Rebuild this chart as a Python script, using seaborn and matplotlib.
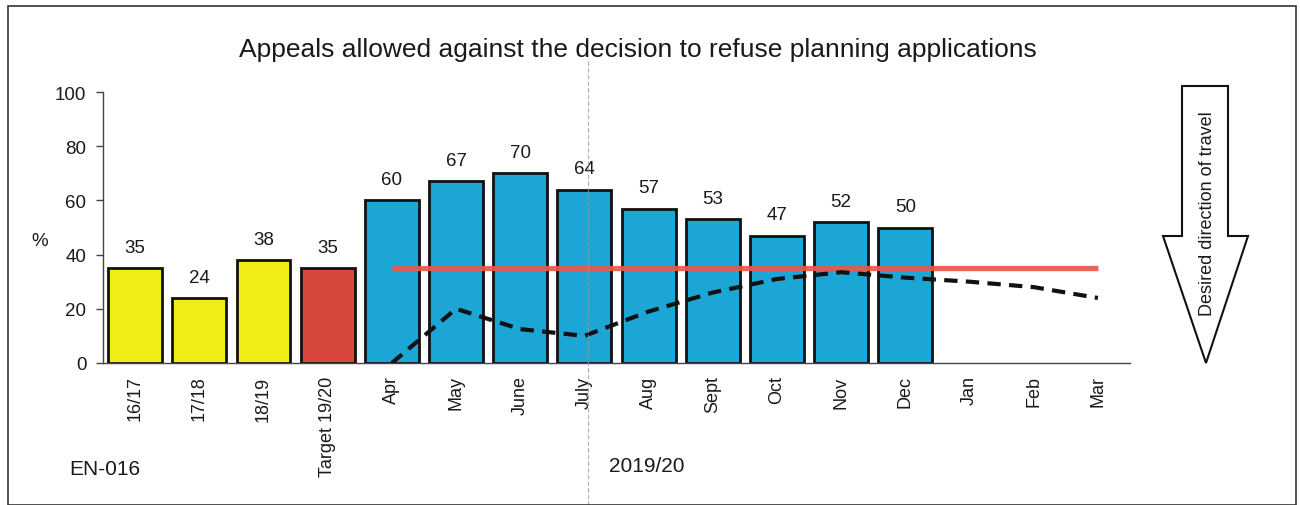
import matplotlib
matplotlib.use("Agg")
import matplotlib.pyplot as plt
from matplotlib.patches import Polygon, Rectangle
from matplotlib.lines import Line2D
import numpy as np
import pandas as pd
import seaborn as sns

# ---- data -------------------------------------------------------------
categories = ["16/17", "17/18", "18/19", "Target 19/20", "Apr", "May", "June",
              "July", "Aug", "Sept", "Oct", "Nov", "Dec", "Jan", "Feb", "Mar"]
values = [35, 24, 38, 35, 60, 67, 70, 64, 57, 53, 47, 52, 50,
          np.nan, np.nan, np.nan]
bar_colors = ["#f2ec16", "#f2ec16", "#f2ec16", "#d8473b"] + ["#1ba6d6"] * 12
value_labels = ["35", "24", "38", "35", "60", "67", "70", "64", "57", "53",
                "47", "52", "50", "", "", ""]

# comparison trend for the monthly period (Apr..Mar)
trend_months = ["Apr", "May", "June", "July", "Aug", "Sept", "Oct", "Nov",
                "Dec", "Jan", "Feb", "Mar"]
trend_values = [0, 20, 12.5, 10, 19, 26, 31, 33.5, 31.5, 30, 28, 24]
target_value = 35

yticks = [0, 20, 40, 60, 80, 100]

# ---- figure -----------------------------------------------------------
sns.set_theme(style="white")
plt.rcParams["font.family"] = ["Liberation Sans", "DejaVu Sans"]

W, H = 1300, 506
fig = plt.figure(figsize=(W / 100, H / 100), dpi=100)
fig.patch.set_facecolor("white")


def fx(px):
    return px / W


def fy(py):
    return 1 - py / H


ax = fig.add_axes([fx(103), fy(364), fx(1130) - fx(103), fy(93) - fy(364)])

df = pd.DataFrame({"cat": categories, "val": values})
palette = dict(zip(categories, bar_colors))
sns.barplot(data=df, x="cat", y="val", hue="cat", order=categories,
            hue_order=categories, palette=palette, legend=False,
            width=0.84, edgecolor="#111111", linewidth=2, saturation=1,
            ax=ax)

# value labels above bars
for i, (v, lab) in enumerate(zip(values, value_labels)):
    if lab:
        ax.text(i, v + 4.5, lab, ha="center", va="bottom", fontsize=13.5,
                color="#1a1a1a")

# target line and trend line
idx = {c: i for i, c in enumerate(categories)}
tx = [idx[m] for m in trend_months]
ax.plot([tx[0], tx[-1]], [target_value, target_value], color="#e8594c",
        lw=3.8, solid_capstyle="butt", alpha=0.92, zorder=4)
ax.plot(tx, trend_values, color="#111111", lw=3, ls=(0, (3.2, 2.0)),
        zorder=5)

# axes styling
ax.set_xlim(-0.5, len(categories) - 0.5)
ax.set_ylim(0, 100)
ax.set_yticks(yticks)
ax.set_yticklabels([str(t) for t in yticks], fontsize=13.5, color="#1a1a1a")
ax.set_xticks(range(len(categories)))
ax.set_xticklabels(categories, rotation=90, fontsize=13, color="#1a1a1a",
                   va="top")
ax.set_xticks(np.arange(-0.5, len(categories), 1.0), minor=True)
ax.tick_params(axis="x", which="major", length=0, pad=9)
ax.tick_params(axis="x", which="minor", length=5, width=1, color="#444444",
               direction="out")
ax.tick_params(axis="y", length=5, width=1, color="#444444", direction="out",
               pad=7, left=True)
ax.set_xlabel("")
ax.set_ylabel("%", rotation=0, fontsize=13.5, color="#1a1a1a")
ax.yaxis.set_label_coords(-0.062, 0.42)
for s in ["top", "right"]:
    ax.spines[s].set_visible(False)
for s in ["left", "bottom"]:
    ax.spines[s].set_color("#444444")
    ax.spines[s].set_linewidth(1)
ax.grid(False)

# title and side texts
fig.text(fx(638), fy(50), "Appeals allowed against the decision to refuse planning applications",
         ha="center", va="center", fontsize=19, color="#1a1a1a")
fig.text(fx(105), fy(470), "EN-016", ha="center", va="center", fontsize=15,
         color="#1a1a1a")
fig.text(fx(647), fy(467), "2019/20", ha="center", va="center", fontsize=15,
         color="#1a1a1a")

# outline arrow pointing down
arrow_pts = [(1182, 87), (1228, 87), (1228, 237), (1248, 237), (1206, 364),
             (1163, 237), (1182, 237)]
fig.patches.append(Polygon([(fx(x), fy(y)) for x, y in arrow_pts],
                           closed=True, transform=fig.transFigure,
                           facecolor="white", edgecolor="#111111", lw=1.5))
fig.text(fx(1207), fy(214), "Desired direction of travel", rotation=90,
         ha="center", va="center", fontsize=13, color="#1a1a1a")

# page frame and fold line
fig.patches.append(Rectangle((fx(8), fy(506)), fx(1296) - fx(8),
                             fy(7) - fy(506), transform=fig.transFigure,
                             fill=False, edgecolor="#333333", lw=1.2))
fig.lines.append(Line2D([fx(588), fx(588)], [fy(62), fy(506)],
                        transform=fig.transFigure, color="#9a9a9a", lw=0.8,
                        ls=(0, (4, 2)), alpha=0.8, zorder=0))

fig.savefig("out.png", dpi=100, facecolor="white")
